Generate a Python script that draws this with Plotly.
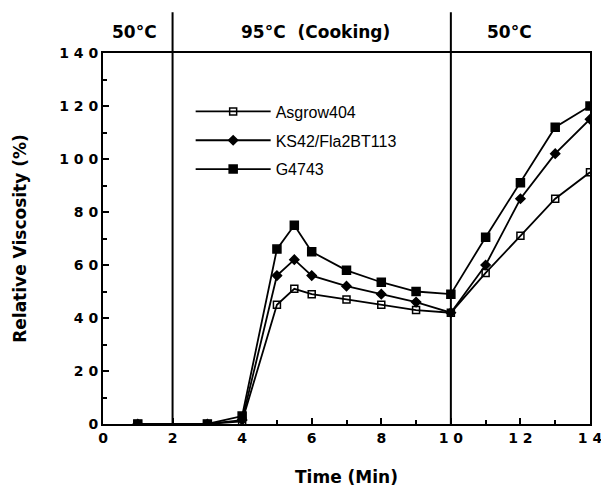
import plotly.graph_objects as go

time = [1, 3, 4, 5, 5.5, 6, 7, 8, 9, 10, 11, 12, 13, 14]
asgrow404 = [0, 0, 1, 45, 51, 49, 47, 45, 43, 42, 57, 71, 85, 95]
ks42 = [0, 0, 1.5, 56, 62, 56, 52, 49, 46, 42, 60, 85, 102, 115]
g4743 = [0, 0, 3, 66, 75, 65, 58, 53.5, 50, 49, 70.5, 91, 112, 120]

phase_bounds = [2, 10]
phase_labels = ["50°C", "95°C  (Cooking)", "50°C"]
phase_label_x = [0.9, 6.1, 11.7]

x_ticks = [0, 2, 4, 6, 8, 10, 12, 14]
x_ticklabels = ["0", "2", "4", "6", "8", "1 0", "1 2", "1 4"]
y_ticks = [0, 20, 40, 60, 80, 100, 120, 140]
y_ticklabels = ["0", "2 0", "4 0", "6 0", "8 0", "1 0 0", "1 2 0", "1 4 0"]

fig = go.Figure()
series = [
    ("Asgrow404", asgrow404, "square-open", 7),
    ("KS42/Fla2BT113", ks42, "diamond", 7),
    ("G4743", g4743, "square", 8),
]
for i, (name, vals, sym, sz) in enumerate(series):
    fig.add_trace(go.Scatter(
        x=time, y=vals, name=name, mode="lines+markers", legendgroup=f"g{i}",
        line=dict(color="black", width=1.8),
        marker=dict(symbol=sym, size=sz, color="black",
                    line=dict(color="black", width=1.5)),
    ))

for b in phase_bounds:
    fig.add_shape(type="line", xref="x", yref="paper", x0=b, x1=b, y0=0, y1=1.11,
                  line=dict(color="black", width=2))

for lx, lt in zip(phase_label_x, phase_labels):
    fig.add_annotation(x=lx, y=1.088, xref="x", yref="paper", text=lt, showarrow=False,
                       font=dict(family="DejaVu Sans", size=17, color="black", weight="bold"))

fig.update_layout(
    width=601, height=493,
    margin=dict(l=103, r=11, t=53, b=69, autoexpand=False),
    paper_bgcolor="white", plot_bgcolor="white",
    showlegend=True,
    legend=dict(x=0.18, y=0.888, xanchor="left", yanchor="top",
                bgcolor="rgba(0,0,0,0)", itemwidth=75, tracegroupgap=5,
                font=dict(family="Liberation Sans Narrow, Liberation Sans", size=16, color="black")),
    font=dict(family="DejaVu Sans", color="black"),
)
fig.update_xaxes(
    range=[0, 14], tickvals=x_ticks, ticktext=x_ticklabels, automargin=False,
    ticklabeloverflow="allow",
    ticks="inside", ticklen=6, tickwidth=2, tickcolor="black",
    minor=dict(dtick=1, ticks="inside", ticklen=4, tickcolor="black", tickwidth=1.5),
    showline=True, linecolor="black", linewidth=2, mirror=True,
    showgrid=False, zeroline=False,
    tickfont=dict(family="DejaVu Sans", size=14, color="black", weight="bold"),
    title=dict(text="Time (Min)", standoff=26,
               font=dict(family="DejaVu Sans", size=17, color="black", weight="bold")),
)
fig.update_yaxes(
    range=[0, 140], tickvals=y_ticks, ticktext=y_ticklabels, automargin=False,
    ticklabeloverflow="allow",
    ticks="inside", ticklen=6, tickwidth=2, tickcolor="black",
    minor=dict(dtick=10, ticks="inside", ticklen=4, tickcolor="black", tickwidth=1.5),
    showline=True, linecolor="black", linewidth=2, mirror=True,
    showgrid=False, zeroline=False,
    tickfont=dict(family="DejaVu Sans", size=14, color="black", weight="bold"),
    title=dict(text="Relative Viscosity (%)", standoff=28,
               font=dict(family="DejaVu Sans", size=17, color="black", weight="bold")),
)
fig.write_html("out.html", config={"displayModeBar": False},
               post_script="document.body.style.margin='0px';document.body.style.overflow='hidden';")
